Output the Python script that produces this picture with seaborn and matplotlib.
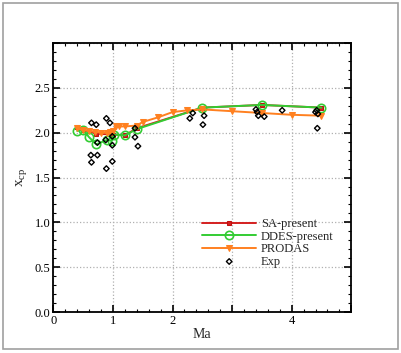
import numpy as np
import pandas as pd
import matplotlib
matplotlib.use('Agg')
import matplotlib.pyplot as plt
import seaborn as sns
from matplotlib.patches import Rectangle
from matplotlib.ticker import MultipleLocator

# data
sa_ma = [0.4, 0.5, 0.72, 1.0, 1.2, 1.4, 2.5, 3.5, 4.5]
sa_xcp = [2.06, 2.03, 1.99, 1.98, 1.97, 2.05, 2.28, 2.31, 2.28]

ddes_ma = [0.4, 0.5, 0.6, 0.72, 0.9, 0.98, 1.02, 1.2, 1.4, 2.5, 3.5, 4.5]
ddes_xcp = [2.02, 2.03, 1.95, 1.87, 1.92, 1.91, 1.98, 1.97, 2.04, 2.28, 2.31, 2.28]

prodas_ma = [0.4, 0.5, 0.6, 0.7, 0.8, 0.9, 0.95, 1.0, 1.05, 1.1, 1.2, 1.4, 1.5,
             1.75, 2.0, 2.25, 2.5, 3.0, 3.5, 4.0, 4.5]
prodas_xcp = [2.05, 2.03, 2.02, 2.01, 2.00, 2.00, 2.01, 2.02, 2.08, 2.07, 2.07, 2.08, 2.12,
              2.17, 2.23, 2.25, 2.26, 2.24, 2.22, 2.20, 2.19]

exp_ma = [0.63, 0.64, 0.64, 0.72, 0.74, 0.74, 0.89, 0.95, 0.89, 0.88, 0.99, 0.99, 0.99,
          1.37, 1.37, 1.42, 2.29, 2.34, 2.53, 2.51, 3.40, 3.42, 3.44, 3.54, 3.84,
          4.40, 4.42, 4.44, 4.43]
exp_xcp = [1.75, 1.67, 2.11, 2.09, 1.75, 1.89, 2.16, 2.11, 1.60, 1.92, 1.96, 1.86, 1.68,
           2.05, 1.95, 1.85, 2.16, 2.22, 2.19, 2.09, 2.26, 2.23, 2.19, 2.18, 2.25,
           2.23, 2.25, 2.21, 2.05]

sns.set_style('ticks')
plt.rcParams['font.family'] = ['Liberation Serif', 'DejaVu Serif']
plt.rcParams['mathtext.fontset'] = 'stix'

fig = plt.figure(figsize=(4.01, 3.53), dpi=100)
ax = fig.add_axes([0.133, 0.116, 0.743, 0.762])

# outer frame
fig.patches.append(Rectangle((0.0075, 0.011), 0.985, 0.980, transform=fig.transFigure,
                             fill=False, edgecolor='#a0a0a0', linewidth=1.2))

sns.lineplot(x=sa_ma, y=sa_xcp, ax=ax, color='#d42020', marker='s', markersize=3.5,
             markeredgecolor='#c01010', linewidth=1.4, label='SA-present')
sns.lineplot(x=ddes_ma, y=ddes_xcp, ax=ax, color='#33cc33', marker='o', markersize=6,
             markerfacecolor='none', markeredgecolor='#33cc33', markeredgewidth=1.2,
             linewidth=1.4, label='DDES-present')
sns.lineplot(x=prodas_ma, y=prodas_xcp, ax=ax, color='#ff8020', marker='v', markersize=4.5,
             markeredgecolor='#ff8020', linewidth=1.4, label='PRODAS')
sns.scatterplot(x=exp_ma, y=exp_xcp, ax=ax, marker='D', s=8, facecolor='none',
                edgecolor='black', linewidth=1.0, label='Exp', zorder=5)

ax.set_xlim(0, 5)
ax.set_ylim(0, 3)
ax.set_xticks([0, 1, 2, 3, 4, 5])
ax.set_xticklabels(['0', '1', '2', '', '4', ''])
ax.set_yticks([0, 0.5, 1.0, 1.5, 2.0, 2.5, 3.0])
ax.set_yticklabels(['0.0', '0.5', '1.0', '1.5', '2.0', '2.5', ''])
ax.xaxis.set_minor_locator(MultipleLocator(0.2))
ax.yaxis.set_minor_locator(MultipleLocator(0.1))
ax.tick_params(which='both', direction='in', top=True, right=True, labelsize=9,
               colors='black', pad=2)
ax.tick_params(which='major', length=5, width=1.2)
ax.tick_params(which='minor', length=2.5, width=0.8)
ax.grid(True, which='major', linestyle=':', color='#b0b0b0', linewidth=0.9)
for sp in ax.spines.values():
    sp.set_linewidth(1.3)
    sp.set_color('black')

ax.set_xlabel('Ma', fontsize=10, labelpad=1)
ax.set_ylabel(r'$\mathregular{x_{cp}}$', fontsize=11, labelpad=4)

ax.legend(loc='upper left', bbox_to_anchor=(0.50, 0.35), frameon=False, fontsize=9,
          handlelength=4.3, handletextpad=0.4, labelspacing=0.05, borderpad=0,
          borderaxespad=0)

fig.savefig('out.png', dpi=100)
